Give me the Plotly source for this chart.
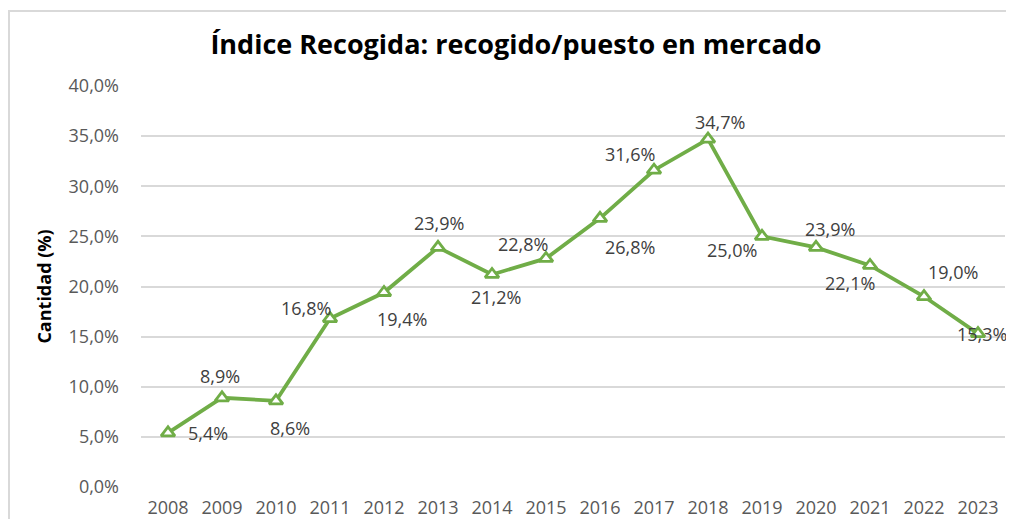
import plotly.graph_objects as go

years = ["2008", "2009", "2010", "2011", "2012", "2013", "2014", "2015",
         "2016", "2017", "2018", "2019", "2020", "2021", "2022", "2023"]
values = [5.4, 8.9, 8.6, 16.8, 19.4, 23.9, 21.2, 22.8,
          26.8, 31.6, 34.7, 25.0, 23.9, 22.1, 19.0, 15.3]
y_ticks = [0, 5, 10, 15, 20, 25, 30, 35, 40]
y_tick_labels = ["0,0%", "5,0%", "10,0%", "15,0%", "20,0%", "25,0%", "30,0%", "35,0%", "40,0%"]

# data-label offsets in pixels (dx right, dy up) relative to each point
label_offsets = [(40, 0), (-2, 22), (14, -27), (-24, 11), (18, -26), (1, 24), (4, -23), (-23, 14),
                 (30, -29), (-24, 16), (12, 17), (-30, -14), (14, 18), (-20, -18), (29, 25), (4, 0)]

green = "#70AD47"
font_family = "Open Sans, Noto Sans, sans-serif"

fig = go.Figure()
fig.add_trace(go.Scatter(
    x=years, y=values, mode="lines+markers",
    line=dict(color=green, width=3.8),
    marker=dict(symbol="triangle-up", size=12, color="white",
                line=dict(color=green, width=2.8)),
    hoverinfo="skip", showlegend=False, cliponaxis=False,
))

for i, (v, (dx, dy)) in enumerate(zip(values, label_offsets)):
    fig.add_annotation(
        x=i, y=v, xref="x", yref="y",
        text=f"{v:.1f}%".replace(".", ","),
        showarrow=False, xshift=dx, yshift=dy,
        font=dict(family=font_family, size=18, color="#404040"),
    )

# outer chart border
fig.add_shape(type="rect", xref="paper", yref="paper",
              x0=-0.1528, x1=1.05, y0=-0.2, y1=1.187,
              line=dict(color="#D9D9D9", width=2), fillcolor="rgba(0,0,0,0)", layer="below")

fig.update_layout(
    width=998, height=511,
    margin=dict(l=133, r=1, t=78, b=32, autoexpand=False),
    paper_bgcolor="white", plot_bgcolor="white",
    title=dict(text="<b>Índice Recogida: recogido/puesto en mercado</b>",
               x=0.509, xref="container", xanchor="center",
               y=0.9276, yref="container", yanchor="middle",
               font=dict(family=font_family, size=27, color="black")),
    xaxis=dict(type="category", range=[-0.5, 15.5], showgrid=False, showline=False,
               zeroline=False, ticks="", ticklabelstandoff=8, automargin=False,
               tickfont=dict(family=font_family, size=18, color="#595959")),
    yaxis=dict(range=[0, 40], tickvals=y_ticks, ticktext=y_tick_labels,
               showgrid=True, gridcolor="#D9D9D9", gridwidth=1.5, zeroline=False,
               showline=False, ticks="", ticklabelstandoff=21, automargin=False,
               tickfont=dict(family=font_family, size=18, color="#595959"),
               title=dict(text="<b>Cantidad (%)</b>", standoff=12,
                          font=dict(family=font_family, size=18, color="black"))),
)

fig.write_html("out.html")
